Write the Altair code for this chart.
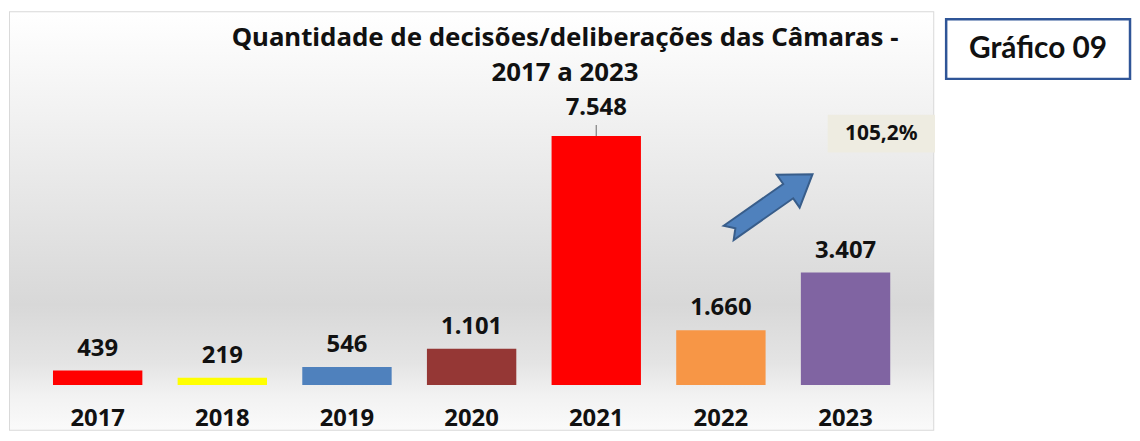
import altair as alt
import pandas as pd

# ---- data ----
years = ["2017", "2018", "2019", "2020", "2021", "2022", "2023"]
values = [439, 219, 546, 1101, 7548, 1660, 3407]
bar_colors = ["#ff0000", "#ffff00", "#4f81bd", "#953735", "#ff0000", "#f79646", "#8064a2"]
title_lines = ["Quantidade de decisões/deliberações das Câmaras -", "2017 a 2023"]
badge_text = ["Gráfico 09"]
growth_text = ["105,2%"]
arrow_year = ["2022"]
arrow_value = [5500]
growth_year = ["2023"]
growth_value = [7620]

FONT = "Noto Sans"

df = pd.DataFrame({"year": years, "value": values})
df["label"] = [f"{v:,}".replace(",", ".") for v in values]

bg_df = pd.DataFrame({"k": [0]})
arrow_df = pd.DataFrame({"year": arrow_year, "value": arrow_value})
growth_df = pd.DataFrame({"year": growth_year, "value": growth_value, "label": growth_text})
badge_df = pd.DataFrame({"t": badge_text})

x_scale = alt.Scale(domain=years, paddingInner=0.283, paddingOuter=0.345)
y_scale = alt.Scale(domain=[-1355, 11295], nice=False, zero=False)

X = alt.X("year:N", scale=x_scale, sort=years,
          axis=alt.Axis(title=None, domain=False, ticks=False, grid=False, labelAngle=0,
                        labelFont=FONT, labelFontSize=24, labelFontWeight="bold",
                        labelColor="#111111", labelPadding=22, offset=-45, zindex=1))
Xn = alt.X("year:N", scale=x_scale, sort=years)
Y = alt.Y("value:Q", scale=y_scale, axis=None)

gradient = alt.LinearGradient(
    gradient="linear", x1=0, x2=0, y1=0, y2=1,
    stops=[
        alt.GradientStop(color="#ffffff", offset=0),
        alt.GradientStop(color="#f4f4f4", offset=0.2),
        alt.GradientStop(color="#e6e6e6", offset=0.45),
        alt.GradientStop(color="#d8d8d8", offset=0.7),
        alt.GradientStop(color="#e4e4e4", offset=0.84),
        alt.GradientStop(color="#f2f2f2", offset=0.92),
        alt.GradientStop(color="#fafafa", offset=1),
    ],
)

background = alt.Chart(bg_df).mark_rect(color=gradient).encode(
    x=alt.value(0), x2=alt.value("width"), y=alt.value(0), y2=alt.value("height")
)

bars = alt.Chart(df).mark_bar().encode(
    x=X, y=Y,
    color=alt.Color("year:N", scale=alt.Scale(domain=years, range=bar_colors), legend=None),
)

labels_main = alt.Chart(df).transform_filter("datum.year != '2021'").mark_text(
    font=FONT, fontSize=24, fontWeight="bold", color="#111111", baseline="alphabetic", dy=-15
).encode(x=Xn, y=Y, text="label:N")

labels_peak = alt.Chart(df).transform_filter("datum.year == '2021'").mark_text(
    font=FONT, fontSize=24, fontWeight="bold", color="#111111", baseline="alphabetic", dy=-21
).encode(x=Xn, y=Y, text="label:N")

leader = alt.Chart(df).transform_filter("datum.year == '2021'").transform_calculate(
    top="datum.value + 330"
).mark_rule(color="#7f7f7f", strokeWidth=1.2).encode(x=Xn, y=Y, y2="top:Q")

ARROW = "M -1 -0.17 L 0.42 -0.17 L 0.42 -0.39 L 1 0 L 0.42 0.39 L 0.42 0.17 L -1 0.17 L -0.84 0 Z"
arrow = alt.Chart(arrow_df).mark_point(
    shape=ARROW, size=10609, angle=325, filled=True, fill="#4f81bd",
    stroke="#385d8a", strokeWidth=2, opacity=1, xOffset=50
).encode(x=Xn, y=Y)

BOX = "M -1 -0.352 L 1 -0.352 L 1 0.352 L -1 0.352 Z"
growth_box = alt.Chart(growth_df).mark_point(
    shape=BOX, size=11664, filled=True, fill="#eeece1", strokeWidth=0, opacity=1, xOffset=36
).encode(x=Xn, y=Y)

growth_label = alt.Chart(growth_df).mark_text(
    font=FONT, fontSize=21, fontWeight="bold", color="#111111", xOffset=36
).encode(x=Xn, y=Y, text="label:N")

left = alt.layer(
    background, bars, leader, labels_main, labels_peak, arrow, growth_box, growth_label
).properties(
    width=929, height=420,
    view=alt.ViewBackground(stroke="#d9d9d9", strokeWidth=2),
    title=alt.TitleParams(text=title_lines, font=FONT, fontSize=26, fontWeight="bold",
                          color="#111111", anchor="middle", dx=94, offset=-74,
                          lineHeight=35, frame="group"),
)

badge_box = alt.Chart(badge_df).mark_rect(
    fill="white", stroke="#2f5597", strokeWidth=2.5
).encode(x=alt.value(0), x2=alt.value("width"), y=alt.value(7), y2=alt.value("height"))

badge_text_mark = alt.Chart(badge_df).mark_text(
    font="Lato", fontSize=30, fontWeight="bold", color="#111111", dy=3
).encode(text="t:N")

right = alt.layer(badge_box, badge_text_mark).properties(
    width=185, height=67,
    view=alt.ViewBackground(stroke=None),
)

chart = alt.hconcat(left, right, spacing=8).properties(
    padding={"left": 1, "top": 2, "right": 0, "bottom": 0}, background="white"
)

chart.save("out.html", embed_options={"renderer": "svg", "actions": False})
